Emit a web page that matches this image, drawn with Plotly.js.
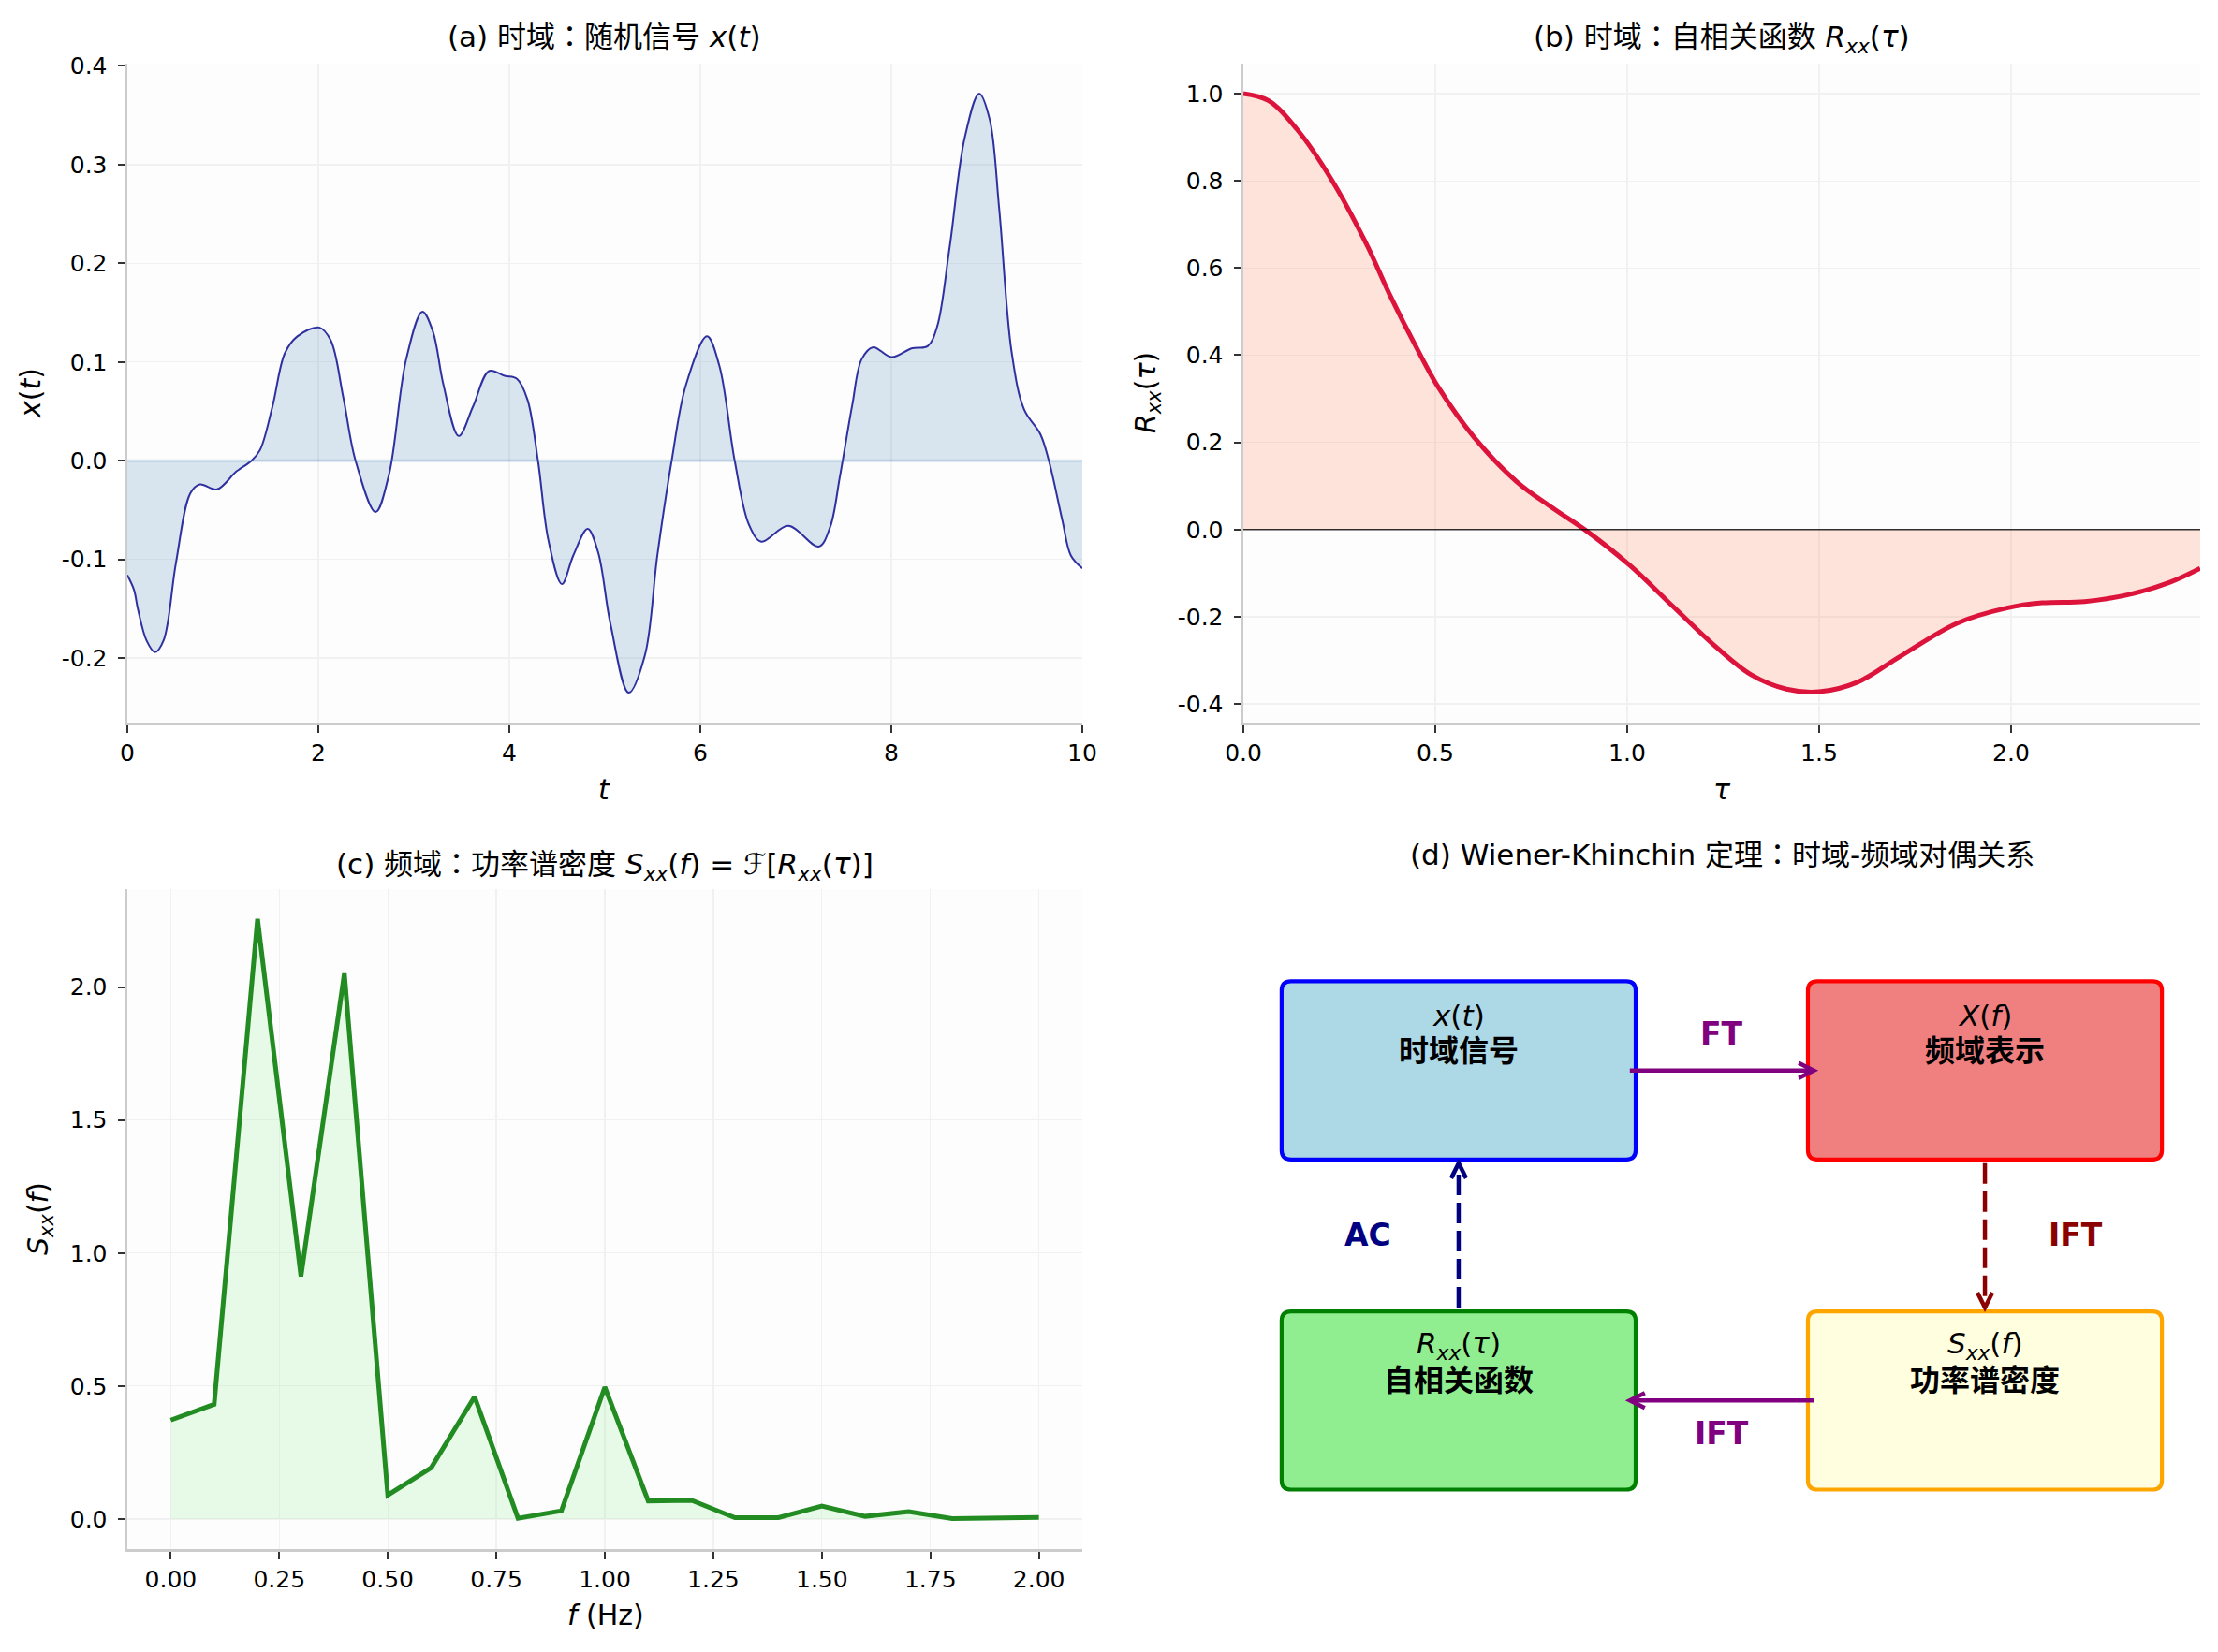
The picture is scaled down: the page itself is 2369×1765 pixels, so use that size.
<!DOCTYPE html>
<html>
<head>
<meta charset="utf-8">
<script src="https://cdn.plot.ly/plotly-3.0.1.min.js"></script>
<style>html,body{margin:0;padding:0;background:#ffffff;}</style>
</head>
<body>
<div id="chart" style="width:2369px;height:1765px;"></div>
<script>
// ---- (a) random signal x(t) ----
const tSignal = [0.00, 0.07, 0.11, 0.20, 0.29, 0.38, 0.51, 0.66, 0.76, 0.94, 1.14, 1.30, 1.39, 1.52, 1.65, 1.78, 2.01, 2.13, 2.26, 2.39, 2.60, 2.74, 2.92, 3.09, 3.20, 3.31, 3.47, 3.62, 3.79, 3.95, 4.08, 4.19, 4.30, 4.41, 4.55, 4.67, 4.82, 4.93, 5.06, 5.25, 5.42, 5.55, 5.70, 5.85, 6.07, 6.20, 6.36, 6.51, 6.64, 6.92, 7.24, 7.36, 7.46, 7.59, 7.69, 7.81, 8.00, 8.22, 8.38, 8.48, 8.61, 8.77, 8.92, 9.03, 9.13, 9.26, 9.39, 9.56, 9.65, 9.79, 9.88, 10.00];
const xSignal = [-0.116, -0.131, -0.150, -0.182, -0.194, -0.182, -0.103, -0.033, -0.024, -0.029, -0.011, 0.000, 0.011, 0.055, 0.109, 0.126, 0.135, 0.122, 0.065, 0.000, -0.052, -0.014, 0.103, 0.151, 0.131, 0.077, 0.025, 0.055, 0.091, 0.086, 0.083, 0.062, 0.000, -0.081, -0.125, -0.096, -0.069, -0.093, -0.166, -0.235, -0.197, -0.096, 0.000, 0.077, 0.126, 0.096, 0.000, -0.065, -0.082, -0.066, -0.087, -0.067, -0.017, 0.056, 0.103, 0.115, 0.105, 0.114, 0.116, 0.136, 0.216, 0.328, 0.372, 0.346, 0.255, 0.110, 0.052, 0.027, 0.000, -0.060, -0.096, -0.109];

// ---- (b) autocorrelation R_xx(tau) ----
const tauLag = [0, 0.065, 0.139, 0.231, 0.324, 0.379, 0.453, 0.509, 0.601, 0.712, 0.805, 0.897, 1.008, 1.119, 1.230, 1.323, 1.415, 1.500, 1.600, 1.711, 1.859, 1.989, 2.081, 2.192, 2.303, 2.414, 2.493];
const rxx = [1.0, 0.984, 0.919, 0.801, 0.649, 0.543, 0.414, 0.325, 0.212, 0.110, 0.050, -0.005, -0.083, -0.176, -0.268, -0.333, -0.366, -0.372, -0.350, -0.291, -0.215, -0.180, -0.168, -0.165, -0.150, -0.121, -0.089];

// ---- (c) power spectral density S_xx(f) ----
const freqHz = [0.0, 0.1, 0.2, 0.3, 0.4, 0.5, 0.6, 0.7, 0.8, 0.9, 1.0, 1.1, 1.2, 1.3, 1.4, 1.5, 1.6, 1.7, 1.8, 1.9, 2.0];
const sxx = [0.372, 0.431, 2.256, 0.912, 2.051, 0.090, 0.193, 0.460, 0.003, 0.031, 0.496, 0.068, 0.070, 0.005, 0.005, 0.049, 0.010, 0.028, 0.002, 0.004, 0.006];

// ---- tick labels ----
const aXTicks = [0, 2, 4, 6, 8, 10];
const aXText = ['0', '2', '4', '6', '8', '10'];
const aYTicks = [-0.2, -0.1, 0, 0.1, 0.2, 0.3, 0.4];
const aYText = ['-0.2', '-0.1', '0.0', '0.1', '0.2', '0.3', '0.4'];
const bXTicks = [0, 0.5, 1, 1.5, 2];
const bXText = ['0.0', '0.5', '1.0', '1.5', '2.0'];
const bYTicks = [-0.4, -0.2, 0, 0.2, 0.4, 0.6, 0.8, 1.0];
const bYText = ['-0.4', '-0.2', '0.0', '0.2', '0.4', '0.6', '0.8', '1.0'];
const cXTicks = [0, 0.25, 0.5, 0.75, 1.0, 1.25, 1.5, 1.75, 2.0];
const cXText = ['0.00', '0.25', '0.50', '0.75', '1.00', '1.25', '1.50', '1.75', '2.00'];
const cYTicks = [0, 0.5, 1.0, 1.5, 2.0];
const cYText = ['0.0', '0.5', '1.0', '1.5', '2.0'];

// ---- (d) diagram text ----
const boxSymbols = ['<i>x</i>(<i>t</i>)', '<i>X</i>(<i>f</i>)', '<i>R</i><sub><i>xx</i></sub>(<i>τ</i>)', '<i>S</i><sub><i>xx</i></sub>(<i>f</i>)'];
const boxNames = ['时域信号', '频域表示', '自相关函数', '功率谱密度'];
const arrowLabels = ['FT', 'IFT', 'IFT', 'AC'];

// full-width colon drawn with a centred glyph
const COLON = '<span style="font-family:\'Noto Sans CJK TC\'">：</span>';
const panelTitles = [
  '(a) 时域' + COLON + '随机信号 <i>x</i>(<i>t</i>)',
  '(b) 时域' + COLON + '自相关函数 <i>R</i><sub><i>xx</i></sub>(<i>τ</i>)',
  '(c) 频域' + COLON + '功率谱密度 <i>S</i><sub><i>xx</i></sub>(<i>f</i>) = ℱ[<i>R</i><sub><i>xx</i></sub>(<i>τ</i>)]',
  '(d) Wiener-Khinchin 定理' + COLON + '时域-频域对偶关系'
];
const axisLabels = {
  ax: '<i>t</i>', ay: '<i>x</i>(<i>t</i>)',
  bx: '<i>τ</i>', by: '<i>R</i><sub><i>xx</i></sub>(<i>τ</i>)',
  cx: '<i>f</i> (Hz)', cy: '<i>S</i><sub><i>xx</i></sub>(<i>f</i>)'
};

// ================= drawing =================
const W = 2369, H = 1765;
const FONT = 'DejaVu Sans, Noto Sans CJK SC, sans-serif';
const px = v => v / W;
const py = v => 1 - v / H;

const traces = [
  { x: tSignal, y: xSignal, type: 'scatter', mode: 'lines', xaxis: 'x', yaxis: 'y',
    line: { color: 'rgba(0,0,139,0.8)', width: 2, shape: 'spline', smoothing: 1 },
    fill: 'tozeroy', fillcolor: 'rgba(70,130,180,0.2)', hoverinfo: 'skip' },
  { x: tauLag, y: rxx, type: 'scatter', mode: 'lines', xaxis: 'x2', yaxis: 'y2',
    line: { color: '#DC143C', width: 5, shape: 'spline', smoothing: 1 },
    fill: 'tozeroy', fillcolor: 'rgba(255,127,80,0.2)', hoverinfo: 'skip' },
  { x: freqHz, y: sxx, type: 'scatter', mode: 'lines', xaxis: 'x3', yaxis: 'y3',
    line: { color: '#228B22', width: 5 },
    fill: 'tozeroy', fillcolor: 'rgba(144,238,144,0.2)', hoverinfo: 'skip' }
];

function axisStyle(extra) {
  return Object.assign({
    showline: true, linecolor: '#cccccc', linewidth: 2.5, mirror: false,
    ticks: 'outside', ticklen: 8, tickwidth: 2, tickcolor: '#333333',
    ticklabelstandoff: 6,
    showgrid: true, gridcolor: '#f1f1f1', gridwidth: 1.3,
    zeroline: false, tickmode: 'array',
    tickfont: { family: FONT, size: 25, color: '#000000' }
  }, extra);
}

const domAx = [px(136), px(1156)], domBx = [px(1328), px(2350)];
const domTop = [py(772), py(68)], domBot = [py(1655), py(949.7)];

const layout = {
  width: W, height: H, autosize: false,
  margin: { l: 0, r: 0, t: 0, b: 0 },
  paper_bgcolor: '#ffffff', plot_bgcolor: 'rgba(0,0,0,0)',
  showlegend: false,
  font: { family: FONT, color: '#000000' },
  xaxis: axisStyle({ domain: domAx, anchor: 'y', range: [0, 10], tickvals: aXTicks, ticktext: aXText, ticklabelstandoff: 0 }),
  yaxis: axisStyle({ domain: domTop, anchor: 'x', range: [-0.2653, 0.4023], tickvals: aYTicks, ticktext: aYText }),
  xaxis2: axisStyle({ domain: domBx, anchor: 'y2', range: [0, 2.493], tickvals: bXTicks, ticktext: bXText, ticklabelstandoff: 0 }),
  yaxis2: axisStyle({ domain: domTop, anchor: 'x2', range: [-0.4427, 1.0687], tickvals: bYTicks, ticktext: bYText }),
  xaxis3: axisStyle({ domain: domAx, anchor: 'y3', range: [-0.1, 2.1], tickvals: cXTicks, ticktext: cXText, ticklabelstandoff: 0 }),
  yaxis3: axisStyle({ domain: domBot, anchor: 'x3', range: [-0.1128, 2.369], tickvals: cYTicks, ticktext: cYText }),
  xaxis4: { domain: domBx, anchor: 'y4', range: [0, 10], visible: false, fixedrange: true },
  yaxis4: { domain: domBot, anchor: 'x4', range: [0, 10], visible: false, fixedrange: true },
  shapes: [],
  annotations: []
};

// near-white axes backgrounds for the three plots
[['x', 'y'], ['x2', 'y2'], ['x3', 'y3']].forEach(([xa, ya]) => {
  layout.shapes.push({ type: 'rect', xref: xa + ' domain', yref: ya + ' domain', x0: 0, x1: 1, y0: 0, y1: 1,
    fillcolor: '#fdfdfd', line: { width: 0 }, layer: 'below' });
});
// fill edge along zero in (a)
layout.shapes.push({ type: 'line', xref: 'x domain', yref: 'y', x0: 0, x1: 1, y0: 0, y1: 0,
  line: { color: 'rgba(70,130,180,0.2)', width: 3 }, layer: 'above' });
// reference line at zero in (b)
layout.shapes.push({ type: 'line', xref: 'x2 domain', yref: 'y2', x0: 0, x1: 1, y0: 0, y1: 0,
  line: { color: 'rgba(0,0,0,0.8)', width: 1.5 }, layer: 'above' });

// ---- (d) boxes ----
const PXU = (2350 - 1328) / 10, PYU = (1655 - 949.7) / 10;   // pixels per data unit
const boxes = [
  { x: 0.5, y: 6, w: 3.5, h: 2.5, fill: '#ADD8E6', edge: '#0000FF' },
  { x: 6.0, y: 6, w: 3.5, h: 2.5, fill: '#F08080', edge: '#FF0000' },
  { x: 0.5, y: 1, w: 3.5, h: 2.5, fill: '#90EE90', edge: '#008000' },
  { x: 6.0, y: 1, w: 3.5, h: 2.5, fill: '#FFFFE0', edge: '#FFA500' }
];
const pad = 0.1;
boxes.forEach((b, i) => {
  const x0 = b.x - pad, x1 = b.x + b.w + pad, y0 = b.y - pad, y1 = b.y + b.h + pad;
  const rx = 10 / PXU, ry = 10 / PYU;
  const path = `M ${x0 + rx},${y0} L ${x1 - rx},${y0} Q ${x1},${y0} ${x1},${y0 + ry} ` +
    `L ${x1},${y1 - ry} Q ${x1},${y1} ${x1 - rx},${y1} L ${x0 + rx},${y1} Q ${x0},${y1} ${x0},${y1 - ry} ` +
    `L ${x0},${y0 + ry} Q ${x0},${y0} ${x0 + rx},${y0} Z`;
  layout.shapes.push({ type: 'path', xref: 'x4', yref: 'y4', path: path,
    fillcolor: b.fill, line: { color: b.edge, width: 4.2 }, layer: 'above' });
  const cx = b.x + b.w / 2;
  const top = b.y + b.h + pad;
  layout.annotations.push({ xref: 'x4', yref: 'y4', x: cx, y: top - 0.52, text: boxSymbols[i], showarrow: false,
    xanchor: 'center', yanchor: 'middle', font: { family: FONT, size: 31, color: '#000000' } });
  layout.annotations.push({ xref: 'x4', yref: 'y4', x: cx, y: top - 1.05, text: '<b>' + boxNames[i] + '</b>', showarrow: false,
    xanchor: 'center', yanchor: 'middle', font: { family: FONT, size: 32, color: '#000000' } });
});

// ---- (d) arrows ----
const arrows = [
  { from: [4, 7.25], to: [6, 7.25], color: '#800080', dash: 'solid', label: [5.0, 7.8] },
  { from: [7.75, 5.9], to: [7.75, 3.6], color: '#8B0000', dash: '22px,8px', label: [8.7, 4.75] },
  { from: [6, 2.25], to: [4, 2.25], color: '#800080', dash: 'solid', label: [5.0, 1.75] },
  { from: [2.25, 3.6], to: [2.25, 5.9], color: '#000080', dash: '22px,8px', label: [1.3, 4.75] }
];
arrows.forEach((a, i) => {
  const [x0, y0] = a.from, [x1, y1] = a.to;
  const dxp = (x1 - x0) * PXU, dyp = (y1 - y0) * PYU;
  const len = Math.hypot(dxp, dyp), ux = dxp / len, uy = dyp / len;
  const shrink = 4;
  const sx = x0 + ux * shrink / PXU, sy = y0 + uy * shrink / PYU;
  const tx = x1 - ux * shrink / PXU, ty = y1 - uy * shrink / PYU;
  const L = 16, Wd = 8, nx = -uy, ny = ux;
  const b1x = tx + (-ux * L + nx * Wd) / PXU, b1y = ty + (-uy * L + ny * Wd) / PYU;
  const b2x = tx + (-ux * L - nx * Wd) / PXU, b2y = ty + (-uy * L - ny * Wd) / PYU;
  layout.shapes.push({ type: 'line', xref: 'x4', yref: 'y4', x0: sx, y0: sy, x1: tx, y1: ty,
    line: { color: a.color, width: 4.5, dash: a.dash }, layer: 'above' });
  layout.shapes.push({ type: 'path', xref: 'x4', yref: 'y4',
    path: `M ${b1x},${b1y} L ${tx},${ty} L ${b2x},${b2y}`,
    fillcolor: 'rgba(0,0,0,0)', line: { color: a.color, width: 4.5 }, layer: 'above' });
  layout.annotations.push({ xref: 'x4', yref: 'y4', x: a.label[0], y: a.label[1], text: '<b>' + arrowLabels[i] + '</b>',
    showarrow: false, xanchor: 'center', yanchor: 'middle', font: { family: FONT, size: 33, color: a.color } });
});

// ---- titles and axis labels ----
const titlePos = [[646, 37], [1839, 38], [646, 922], [1839, 910]];
panelTitles.forEach((t, i) => {
  layout.annotations.push({ xref: 'paper', yref: 'paper', x: px(titlePos[i][0]), y: py(titlePos[i][1]), text: t,
    showarrow: false, xanchor: 'center', yanchor: 'middle', font: { family: FONT, size: 31, color: '#000000' } });
});
const labelSpecs = [
  [axisLabels.ax, 645, 843, 0], [axisLabels.bx, 1839, 843, 0], [axisLabels.cx, 647, 1725, 0],
  [axisLabels.ay, 33, 420, -90], [axisLabels.by, 1226, 420, -90], [axisLabels.cy, 42, 1302, -90]
];
labelSpecs.forEach(([t, x, y, ang]) => {
  layout.annotations.push({ xref: 'paper', yref: 'paper', x: px(x), y: py(y), text: t, textangle: ang,
    showarrow: false, xanchor: 'center', yanchor: 'middle', font: { family: FONT, size: 30, color: '#000000' } });
});

Plotly.newPlot('chart', traces, layout, { staticPlot: true, displayModeBar: false });
</script>
</body>
</html>
